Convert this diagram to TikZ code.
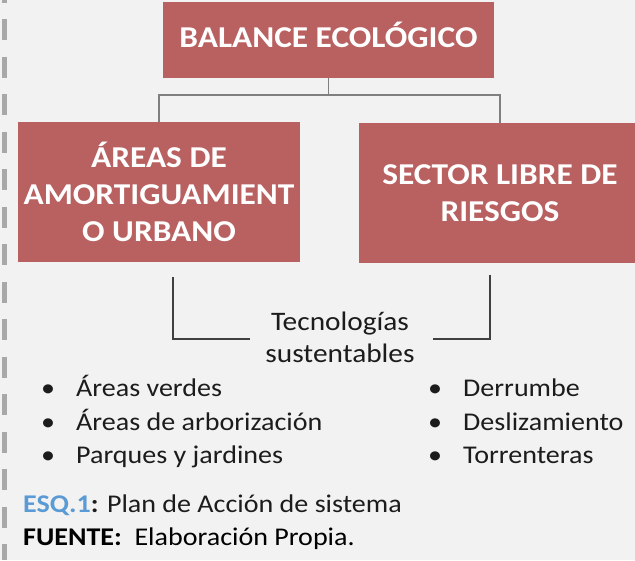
\documentclass[tikz,border=0pt]{standalone}
\usepackage{fontspec}
\setmainfont{Carlito}[FakeStretch=1.1]
\definecolor{boxred}{RGB}{185,96,96}
\definecolor{bgc}{RGB}{242,242,242}
\definecolor{txt}{RGB}{28,28,28}
\definecolor{esqblue}{RGB}{91,155,213}
\definecolor{linkgray}{RGB}{127,127,127}
\definecolor{brackgray}{RGB}{64,64,64}
\definecolor{dashgray}{RGB}{168,168,168}
\begin{document}
\begin{tikzpicture}[x=1pt,y=-1pt,
  titlebox/.style={fill=boxred, text=white, font=\fontsize{30.3}{37}\selectfont\bfseries, align=center, inner sep=0pt, anchor=center},
  link/.style={draw=linkgray, line width=1.5pt},
  bracketline/.style={draw=brackgray, line width=1.8pt},
  body/.style={text=txt, font=\fontsize{25.5}{30}\selectfont, inner sep=0pt},
  bigbody/.style={text=txt, font=\fontsize{26.7}{32}\selectfont, inner sep=0pt, anchor=base},
  bulletitem/.style={body, anchor=base},
  itemtext/.style={body, anchor=base west},
  dashline/.style={draw=dashgray, line width=5pt, dash pattern=on 21pt off 16.5pt, dash phase=18.5pt}
]
\fill[bgc] (0,0) rectangle (635,560);
\useasboundingbox (0,0) rectangle (635,560);
\draw[dashline] (4.5,0) -- (4.5,560);

\node[titlebox, minimum width=331pt, minimum height=76pt, text height=19.5pt, text depth=5pt] (top) at (328.5,40) {BALANCE ECOLÓGICO};
\node[titlebox, minimum width=282pt, minimum height=140pt] (left) at (159,192) {ÁREAS DE\\AMORTIGUAMIENT\\O URBANO};
\node[titlebox, minimum width=282pt, minimum height=140pt] (right) at (500,193) {SECTOR LIBRE DE\\RIESGOS};

\coordinate (bus) at (top.south |- 0,95);
\draw[link] (top.south) -- (bus);
\draw[link] (left.north) |- (bus) -| (right.north);

\coordinate (lbtop) at (173,277);
\coordinate (lbend) at (250,339);
\coordinate (rbtop) at (490,275);
\coordinate (rbend) at (433,339);
\draw[bracketline] (lbtop) |- (lbend);
\draw[bracketline] (rbtop) |- (rbend);

\node[bigbody] (tec1) at (340,330) {Tecnologías};
\node[bigbody] (tec2) at (340,362.5) {sustentables};

\node[bulletitem] (b1) at (48,396) {•};
\node[itemtext] (t1) at (76,396) {Áreas verdes};
\node[bulletitem] (b2) at (48,430) {•};
\node[itemtext] (t2) at (76,430) {Áreas de arborización};
\node[bulletitem] (b3) at (48,463) {•};
\node[itemtext] (t3) at (76,463) {Parques y jardines};

\node[bulletitem] (b4) at (435,396) {•};
\node[itemtext] (t4) at (463,396) {Derrumbe};
\node[bulletitem] (b5) at (435,430) {•};
\node[itemtext] (t5) at (463,430) {Deslizamiento};
\node[bulletitem] (b6) at (435,463) {•};
\node[itemtext] (t6) at (463,463) {Torrenteras};

\node[itemtext] (esq) at (23,512) {\textcolor{esqblue}{\bfseries ESQ.1}\textbf{:} Plan de Acción de sistema};
\node[itemtext, text=black] (fuente) at (23,545) {\textbf{FUENTE:}\ \ Elaboración Propia.};
\end{tikzpicture}
\end{document}
